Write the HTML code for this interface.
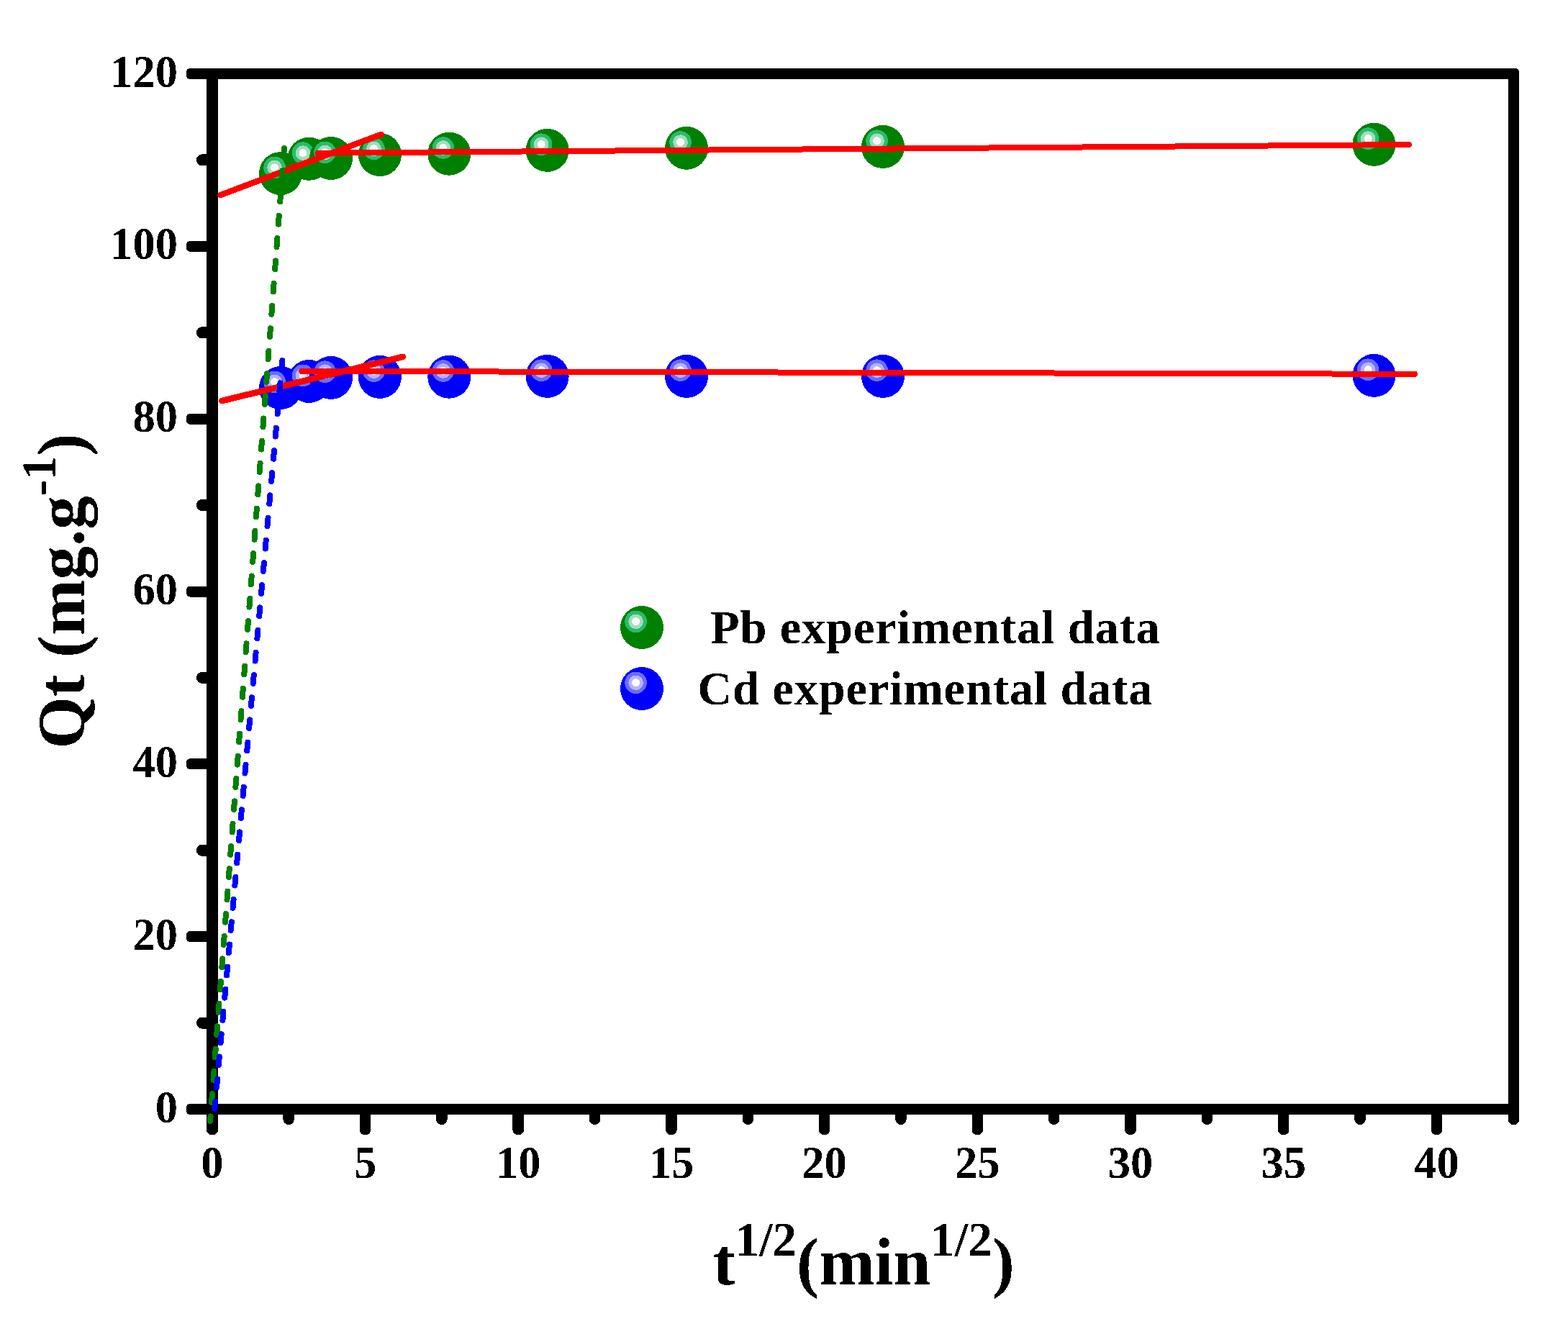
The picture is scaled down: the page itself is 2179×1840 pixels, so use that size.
<!DOCTYPE html>
<html lang="en"><head><meta charset="utf-8">
<title>Intraparticle diffusion plot: Qt vs t^1/2</title>
<style>
html,body{margin:0;padding:0;background:#fff;}
body{width:2179px;height:1840px;}
svg{display:block;}
text{filter:url(#hard);font-family:"Liberation Serif","Times New Roman",Times,serif;font-weight:bold;fill:#000;}
.tick{font-size:62.5px;}
.title{font-size:93px;}
.sup{font-size:67px;}
.leg{font-size:66.5px;letter-spacing:0.8px;}
</style></head><body>
<svg role="img" aria-label="Qt versus square root of time for Pb and Cd" width="2179" height="1840" viewBox="0 0 2179 1840" shape-rendering="crispEdges">
<defs><filter id="hard" x="-5%" y="-5%" width="110%" height="110%" color-interpolation-filters="sRGB"><feComponentTransfer><feFuncA type="discrete" tableValues="0 1"/></feComponentTransfer></filter></defs>
<rect x="0" y="0" width="2179" height="1840" fill="#fff"/>
<g id="pb-points">
<g><circle cx="390.0" cy="241.1" r="30" fill="#008000"/><circle cx="381.6" cy="232.9" r="15.3" fill="#28bc6c"/><circle cx="381.6" cy="232.9" r="10.3" fill="#a3ddba"/><circle cx="381.6" cy="232.9" r="5.5" fill="#f8fcfa"/></g>
<g><circle cx="429.4" cy="220.8" r="30" fill="#008000"/><circle cx="421.0" cy="212.6" r="15.3" fill="#28bc6c"/><circle cx="421.0" cy="212.6" r="10.3" fill="#a3ddba"/><circle cx="421.0" cy="212.6" r="5.5" fill="#f8fcfa"/></g>
<g><circle cx="460.0" cy="220.0" r="30" fill="#008000"/><circle cx="451.6" cy="211.8" r="15.3" fill="#28bc6c"/><circle cx="451.6" cy="211.8" r="10.3" fill="#a3ddba"/><circle cx="451.6" cy="211.8" r="5.5" fill="#f8fcfa"/></g>
<g><circle cx="527.9" cy="215.0" r="30" fill="#008000"/><circle cx="519.5" cy="206.8" r="15.3" fill="#28bc6c"/><circle cx="519.5" cy="206.8" r="10.3" fill="#a3ddba"/><circle cx="519.5" cy="206.8" r="5.5" fill="#f8fcfa"/></g>
<g><circle cx="624.3" cy="213.7" r="30" fill="#008000"/><circle cx="615.9" cy="205.5" r="15.3" fill="#28bc6c"/><circle cx="615.9" cy="205.5" r="10.3" fill="#a3ddba"/><circle cx="615.9" cy="205.5" r="5.5" fill="#f8fcfa"/></g>
<g><circle cx="760.6" cy="208.9" r="30" fill="#008000"/><circle cx="752.2" cy="200.7" r="15.3" fill="#28bc6c"/><circle cx="752.2" cy="200.7" r="10.3" fill="#a3ddba"/><circle cx="752.2" cy="200.7" r="5.5" fill="#f8fcfa"/></g>
<g><circle cx="954.0" cy="205.8" r="30" fill="#008000"/><circle cx="945.6" cy="197.6" r="15.3" fill="#28bc6c"/><circle cx="945.6" cy="197.6" r="10.3" fill="#a3ddba"/><circle cx="945.6" cy="197.6" r="5.5" fill="#f8fcfa"/></g>
<g><circle cx="1227.0" cy="203.9" r="30" fill="#008000"/><circle cx="1218.6" cy="195.7" r="15.3" fill="#28bc6c"/><circle cx="1218.6" cy="195.7" r="10.3" fill="#a3ddba"/><circle cx="1218.6" cy="195.7" r="5.5" fill="#f8fcfa"/></g>
<g><circle cx="1909.5" cy="200.8" r="30" fill="#008000"/><circle cx="1901.1" cy="192.6" r="15.3" fill="#28bc6c"/><circle cx="1901.1" cy="192.6" r="10.3" fill="#a3ddba"/><circle cx="1901.1" cy="192.6" r="5.5" fill="#f8fcfa"/></g>
</g>
<g id="cd-points">
<g><circle cx="390.0" cy="539.0" r="30" fill="#0000ff"/><circle cx="381.6" cy="530.8" r="15.3" fill="#6c6cff"/><circle cx="381.6" cy="530.8" r="10.3" fill="#b4b4ff"/><circle cx="381.6" cy="530.8" r="5.5" fill="#fbfbff"/></g>
<g><circle cx="429.4" cy="530.0" r="30" fill="#0000ff"/><circle cx="421.0" cy="521.8" r="15.3" fill="#6c6cff"/><circle cx="421.0" cy="521.8" r="10.3" fill="#b4b4ff"/><circle cx="421.0" cy="521.8" r="5.5" fill="#fbfbff"/></g>
<g><circle cx="460.0" cy="524.9" r="30" fill="#0000ff"/><circle cx="451.6" cy="516.7" r="15.3" fill="#6c6cff"/><circle cx="451.6" cy="516.7" r="10.3" fill="#b4b4ff"/><circle cx="451.6" cy="516.7" r="5.5" fill="#fbfbff"/></g>
<g><circle cx="527.9" cy="523.9" r="30" fill="#0000ff"/><circle cx="519.5" cy="515.7" r="15.3" fill="#6c6cff"/><circle cx="519.5" cy="515.7" r="10.3" fill="#b4b4ff"/><circle cx="519.5" cy="515.7" r="5.5" fill="#fbfbff"/></g>
<g><circle cx="624.3" cy="523.7" r="30" fill="#0000ff"/><circle cx="615.9" cy="515.5" r="15.3" fill="#6c6cff"/><circle cx="615.9" cy="515.5" r="10.3" fill="#b4b4ff"/><circle cx="615.9" cy="515.5" r="5.5" fill="#fbfbff"/></g>
<g><circle cx="760.6" cy="522.9" r="30" fill="#0000ff"/><circle cx="752.2" cy="514.7" r="15.3" fill="#6c6cff"/><circle cx="752.2" cy="514.7" r="10.3" fill="#b4b4ff"/><circle cx="752.2" cy="514.7" r="5.5" fill="#fbfbff"/></g>
<g><circle cx="954.0" cy="522.9" r="30" fill="#0000ff"/><circle cx="945.6" cy="514.7" r="15.3" fill="#6c6cff"/><circle cx="945.6" cy="514.7" r="10.3" fill="#b4b4ff"/><circle cx="945.6" cy="514.7" r="5.5" fill="#fbfbff"/></g>
<g><circle cx="1227.0" cy="522.9" r="30" fill="#0000ff"/><circle cx="1218.6" cy="514.7" r="15.3" fill="#6c6cff"/><circle cx="1218.6" cy="514.7" r="10.3" fill="#b4b4ff"/><circle cx="1218.6" cy="514.7" r="5.5" fill="#fbfbff"/></g>
<g><circle cx="1909.5" cy="521.9" r="30" fill="#0000ff"/><circle cx="1901.1" cy="513.7" r="15.3" fill="#6c6cff"/><circle cx="1901.1" cy="513.7" r="10.3" fill="#b4b4ff"/><circle cx="1901.1" cy="513.7" r="5.5" fill="#fbfbff"/></g>
</g>
<g id="frame" fill="#000">
<rect x="259" y="95" width="1852" height="15" rx="5" ry="5"/>
<rect x="259" y="1534" width="1852" height="15" rx="5" ry="5"/>
<rect x="287" y="95" width="16" height="1482" rx="7" ry="6.5"/>
<rect x="2096" y="95" width="15" height="1468" rx="7" ry="6.5"/>
<rect x="2096" y="95" width="15" height="40" rx="5" ry="5"/>
</g>
<g id="ticks" fill="#000">
<rect x="259" y="1534.0" width="36" height="15" rx="5" ry="5.5"/>
<rect x="273" y="1413.6" width="22" height="16" rx="7.5" ry="8"/>
<rect x="259" y="1294.2" width="36" height="15" rx="5" ry="5.5"/>
<rect x="273" y="1173.8" width="22" height="16" rx="7.5" ry="8"/>
<rect x="259" y="1054.3" width="36" height="15" rx="5" ry="5.5"/>
<rect x="273" y="933.9" width="22" height="16" rx="7.5" ry="8"/>
<rect x="259" y="814.5" width="36" height="15" rx="5" ry="5.5"/>
<rect x="273" y="694.1" width="22" height="16" rx="7.5" ry="8"/>
<rect x="259" y="574.7" width="36" height="15" rx="5" ry="5.5"/>
<rect x="273" y="454.2" width="22" height="16" rx="7.5" ry="8"/>
<rect x="259" y="334.8" width="36" height="15" rx="5" ry="5.5"/>
<rect x="273" y="214.4" width="22" height="16" rx="7.5" ry="8"/>
<rect x="259" y="95.0" width="36" height="15" rx="5" ry="5.5"/>
<rect x="287.05" y="1540" width="15.5" height="37" rx="7" ry="6.5"/>
<rect x="393.40" y="1540" width="15.5" height="23" rx="7.7" ry="7.5"/>
<rect x="499.75" y="1540" width="15.5" height="37" rx="7" ry="6.5"/>
<rect x="606.10" y="1540" width="15.5" height="23" rx="7.7" ry="7.5"/>
<rect x="712.45" y="1540" width="15.5" height="37" rx="7" ry="6.5"/>
<rect x="818.80" y="1540" width="15.5" height="23" rx="7.7" ry="7.5"/>
<rect x="925.15" y="1540" width="15.5" height="37" rx="7" ry="6.5"/>
<rect x="1031.50" y="1540" width="15.5" height="23" rx="7.7" ry="7.5"/>
<rect x="1137.85" y="1540" width="15.5" height="37" rx="7" ry="6.5"/>
<rect x="1244.20" y="1540" width="15.5" height="23" rx="7.7" ry="7.5"/>
<rect x="1350.55" y="1540" width="15.5" height="37" rx="7" ry="6.5"/>
<rect x="1456.90" y="1540" width="15.5" height="23" rx="7.7" ry="7.5"/>
<rect x="1563.25" y="1540" width="15.5" height="37" rx="7" ry="6.5"/>
<rect x="1669.60" y="1540" width="15.5" height="23" rx="7.7" ry="7.5"/>
<rect x="1775.95" y="1540" width="15.5" height="37" rx="7" ry="6.5"/>
<rect x="1882.30" y="1540" width="15.5" height="23" rx="7.7" ry="7.5"/>
<rect x="1988.65" y="1540" width="15.5" height="37" rx="7" ry="6.5"/>
</g>
<g id="fits" fill="none" stroke="#ff0000" stroke-linecap="round">
<line x1="306.6" y1="271.0" x2="529.7" y2="186.8" stroke-width="8.4"/>
<line x1="441.4" y1="212.7" x2="1958.0" y2="201.0" stroke-width="8.0"/>
<line x1="308.5" y1="557.0" x2="559.9" y2="495.9" stroke-width="8.7"/>
<line x1="419.3" y1="515.8" x2="1966.0" y2="519.8" stroke-width="8.0"/>
</g>
<g id="dots" fill="none" stroke-width="8" stroke-linecap="round">
<line x1="394.9" y1="206" x2="292.1" y2="1558" stroke="#008000" stroke-dasharray="11.8 19.58"/>
<line x1="392.3" y1="501.2" x2="298.3" y2="1540.8" stroke="#0000ff" stroke-dasharray="11.8 19.53"/>
</g>
<g id="ylabels" class="tick" text-anchor="end">
<text x="247.0" y="1559.5">0</text>
<text x="247.0" y="1319.7">20</text>
<text x="247.0" y="1079.8">40</text>
<text x="247.0" y="840.0">60</text>
<text x="247.0" y="600.2">80</text>
<text x="247.0" y="360.3">100</text>
<text x="247.0" y="120.5">120</text>
</g>
<g id="xlabels" class="tick" text-anchor="middle">
<text x="294.8" y="1637.0">0</text>
<text x="507.5" y="1637.0">5</text>
<text x="720.2" y="1637.0">10</text>
<text x="932.9" y="1637.0">15</text>
<text x="1145.6" y="1637.0">20</text>
<text x="1358.3" y="1637.0">25</text>
<text x="1571.0" y="1637.0">30</text>
<text x="1783.7" y="1637.0">35</text>
<text x="1996.4" y="1637.0">40</text>
</g>
<text class="title" x="990.5" y="1785">t<tspan class="sup" dy="-40.5">1/2</tspan><tspan dy="40.5">(min</tspan><tspan class="sup" dy="-40.5">1/2</tspan><tspan dy="40.5">)</tspan></text>
<text class="title" transform="translate(116.5 1040.5) rotate(-90)" x="0" y="0">Qt (mg.g<tspan class="sup" dy="-40.5">-1</tspan><tspan dy="40.5">)</tspan></text>
<g id="legend">
<g><circle cx="892.0" cy="872.0" r="30" fill="#008000"/><circle cx="883.6" cy="863.8" r="15.3" fill="#28bc6c"/><circle cx="883.6" cy="863.8" r="10.3" fill="#a3ddba"/><circle cx="883.6" cy="863.8" r="5.5" fill="#f8fcfa"/></g>
<g><circle cx="892.0" cy="957.0" r="30" fill="#0000ff"/><circle cx="883.6" cy="948.8" r="15.3" fill="#6c6cff"/><circle cx="883.6" cy="948.8" r="10.3" fill="#b4b4ff"/><circle cx="883.6" cy="948.8" r="5.5" fill="#fbfbff"/></g>
<text class="leg" x="969.7" y="894" xml:space="preserve"> Pb experimental data</text>
<text class="leg" x="969.3" y="979">Cd experimental data</text>
</g>
</svg>
</body></html>
